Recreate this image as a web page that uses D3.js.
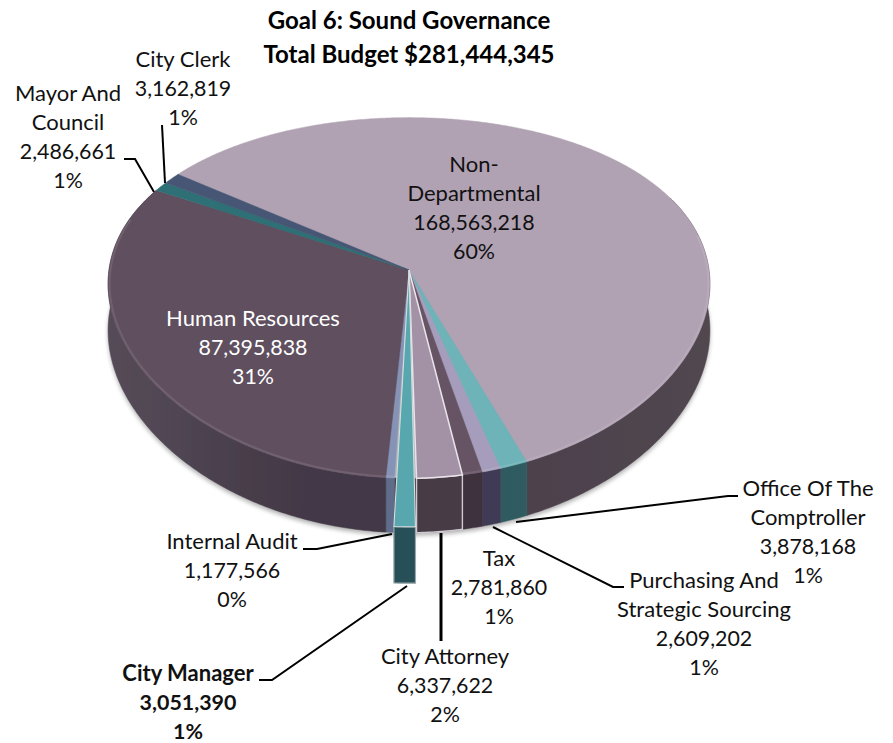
<!DOCTYPE html>
<html><head><meta charset="utf-8">
<script src="https://cdn.jsdelivr.net/npm/d3@7/dist/d3.min.js"></script>
<style>html,body{margin:0;padding:0;background:#fff}svg{display:block}text{font-family:Lato,"Open Sans",sans-serif}</style>
</head><body><svg id="c" width="893" height="743"></svg>
<script>
const titleLines = ["Goal 6: Sound Governance", "Total Budget $281,444,345"];
const categories = ["Non-Departmental","Office Of The Comptroller","Purchasing And Strategic Sourcing","Tax","City Attorney","City Manager","Internal Audit","Human Resources","Mayor And Council","City Clerk"];
const budgets = [168563218,3878168,2609202,2781860,6337622,3051390,1177566,87395838,2486661,3162819];
const percents = ["60%","1%","1%","1%","2%","1%","0%","31%","1%","1%"];
const topColors = ["#b0a1b3","#6db3b8","#a59dbb","#665364","#a392a5","#58a6ae","#8593b6","#604f5f","#2d6f74","#465774"];
const sideColors = ["#4c414b","#2d5a61","#3f3a55","#3e303d","#473a45","#255058","#5f6c8a","#433846","#2d5a61","#3a4a60"];

const labelLines = [
  ["Non-","Departmental"],["Office Of The","Comptroller"],["Purchasing And","Strategic Sourcing"],["Tax"],["City Attorney"],
  ["City Manager"],["Internal Audit"],["Human Resources"],["Mayor And","Council"],["City Clerk"]];
const labelAnchors = [[474,172],[808,496],[704,588],[499,566],[445,664],[188,681],[232,549],[253,326],[68,101],[183,67]];
const labelColors = ["#111","#111","#111","#111","#111","#111","#111","#fff","#111","#111"];
const leaders = [
  null,
  [[516,522],[728,496],[738,496]],
  [[493,527],[613,587],[624,587]],
  null,
  [[441,533],[441,641]],
  [[407,586],[272,680],[259,680]],
  [[392,534],[317,549],[303,549]],
  null,
  [[124,159],[135,159],[154,192]],
  [[162,125],[165,183]]
];

const svg=d3.select("#c");
const apex={x:409,y:270}, rx=300, ry=176, persp=-0.155, depth=46;
const warpAmount=3.3*Math.PI/180, warpCentre=-57*Math.PI/180;
const pt=(u,v)=>{const w=1+persp*v;return [apex.x+rx*u/Math.sqrt(w), apex.y+ry*v/w, w];};
function project(angle,r){
  const a=angle+warpAmount*Math.max(0,Math.cos(angle-warpCentre));
  return pt(Math.sin(a)*r,-Math.cos(a)*r);
}
const startA=-56.9*Math.PI/180;
const pie=d3.pie().sort(null).startAngle(startA).endAngle(startA+2*Math.PI);
const arcs=pie(budgets);
const line=d3.line();
const pulledOut=1.19, pulledNarrow=0.8;
function rimPts(a0,a1,r,lower=false){
  const n=Math.max(2,Math.ceil(Math.abs(a1-a0)/0.01));
  return d3.range(n+1).map(k=>{const p=project(a0+(a1-a0)*k/n,r);return [p[0],p[1]+(lower?depth/p[2]:0)];});
}
const defs=svg.append("defs");
defs.append("filter").attr("id","soft").attr("x","-10%").attr("y","-10%").attr("width","120%").attr("height","120%")
  .append("feGaussianBlur").attr("stdDeviation",2.2);
defs.append("filter").attr("id","blur1").append("feGaussianBlur").attr("stdDeviation",0.6);
const sideG=defs.append("linearGradient").attr("id","sideShade").attr("x1",0).attr("x2",1).attr("y1",0).attr("y2",0);
[[0,"#fff",0.10],[0.2,"#fff",0.04],[0.4,"#000",0.0],[1,"#fff",0.03]].forEach(s=>sideG.append("stop").attr("offset",s[0]).attr("stop-color",s[1]).attr("stop-opacity",s[2]));

// soft shadow under the body
const full=rimPts(0,2*Math.PI,1,true);
svg.append("path").attr("d",line(full)+"Z").attr("transform","translate(0,3)").attr("fill","#808080").attr("opacity",0.6).attr("filter","url(#soft)");

const g=svg.append("g").attr("filter","url(#blur1)");
const frontLo=Math.PI/2-0.45, frontHi=3*Math.PI/2+0.45;
// outer walls
arcs.forEach((d,i)=>{
  [0,-2*Math.PI,2*Math.PI].forEach(shift=>{
    const a0=Math.max(d.startAngle+shift,frontLo), a1=Math.min(d.endAngle+shift,frontHi);
    if(a1<=a0) return;
    const t=rimPts(a0,a1,1), b=rimPts(a0,a1,1,true).reverse();
    g.append("path").attr("d",line(t.concat(b))+"Z")
      .attr("fill",i===5?sideColors[4]:sideColors[i]).attr("stroke",i===5?sideColors[4]:sideColors[i]).attr("stroke-width",0.5);
  });
});
g.append("path").attr("d",line(rimPts(frontLo,frontHi,1).concat(rimPts(frontLo,frontHi,1,true).reverse()))+"Z").attr("fill","url(#sideShade)");
// top faces
arcs.forEach((d,i)=>{
  if(i===4||i===5) return;
  const pts=[project(0,0)].concat(rimPts(d.startAngle,d.endAngle,1));
  g.append("path").attr("d",line(pts)+"Z").attr("fill",topColors[i]).attr("stroke",topColors[i]).attr("stroke-width",0.5);
});
// faint bevel along the front rim
g.append("path").attr("d",line(rimPts(frontLo+0.25,frontHi-0.2,0.995))).attr("fill","none").attr("stroke","#fff").attr("stroke-opacity",0.1).attr("stroke-width",2);
// attorney wedge with pale outline
{const d=arcs[4];
 const a=rimPts(d.startAngle,d.endAngle,1);
 g.append("path").attr("d",line(a.concat(rimPts(d.startAngle,d.endAngle,1,true).reverse()))+"Z").attr("fill",sideColors[4]).attr("stroke","#cfc9d2").attr("stroke-width",1.4);
 g.append("path").attr("d",line([project(0,0)].concat(a))+"Z").attr("fill",topColors[4]).attr("stroke","#e9e3ea").attr("stroke-width",1.5);
}
// manager wedge pulled toward the viewer
{const d=arcs[5], m=(d.startAngle+d.endAngle)/2, h=(d.endAngle-d.startAngle)/2*pulledNarrow;
 const arc=rimPts(m-h,m+h,pulledOut), low=rimPts(m-h,m+h,pulledOut,true).reverse();
 g.append("path").attr("d",line(arc.concat(low))+"Z").attr("fill",sideColors[5]).attr("stroke","#9aa6ab").attr("stroke-width",1.2);
 g.append("path").attr("d",line([project(0,0)].concat(arc))+"Z").attr("fill",topColors[5]).attr("stroke","#d5dde0").attr("stroke-width",1.1);
}
// leaders
svg.append("g").selectAll("path").data(leaders.filter(Boolean)).join("path")
  .attr("d",d=>line(d)).attr("fill","none").attr("stroke","#000").attr("stroke-width",(d,i)=>i===2?3:2);
// labels
const fmt=d3.format(",");
const fs=22, lh=29;
categories.forEach((c,i)=>{
  const [x,y]=labelAnchors[i];
  const names=labelLines[i], rows=names.concat([fmt(budgets[i]),percents[i]]);
  const t=svg.append("text").attr("x",x).attr("y",y).attr("text-anchor","middle").attr("font-size",fs).attr("fill",labelColors[i]);
  if(i===5)t.attr("font-weight",700);
  rows.forEach((s,k)=>t.append("tspan").attr("x",x).attr("dy",k?lh:0).attr("font-size",k>=names.length?21.4:fs).text(s));
});
svg.append("g").selectAll("text").data(titleLines).join("text")
  .attr("x",409).attr("y",(d,i)=>29+i*33.5).attr("text-anchor","middle").attr("font-size",24).attr("font-weight",700).attr("fill","#000").text(d=>d);
</script></body></html>
